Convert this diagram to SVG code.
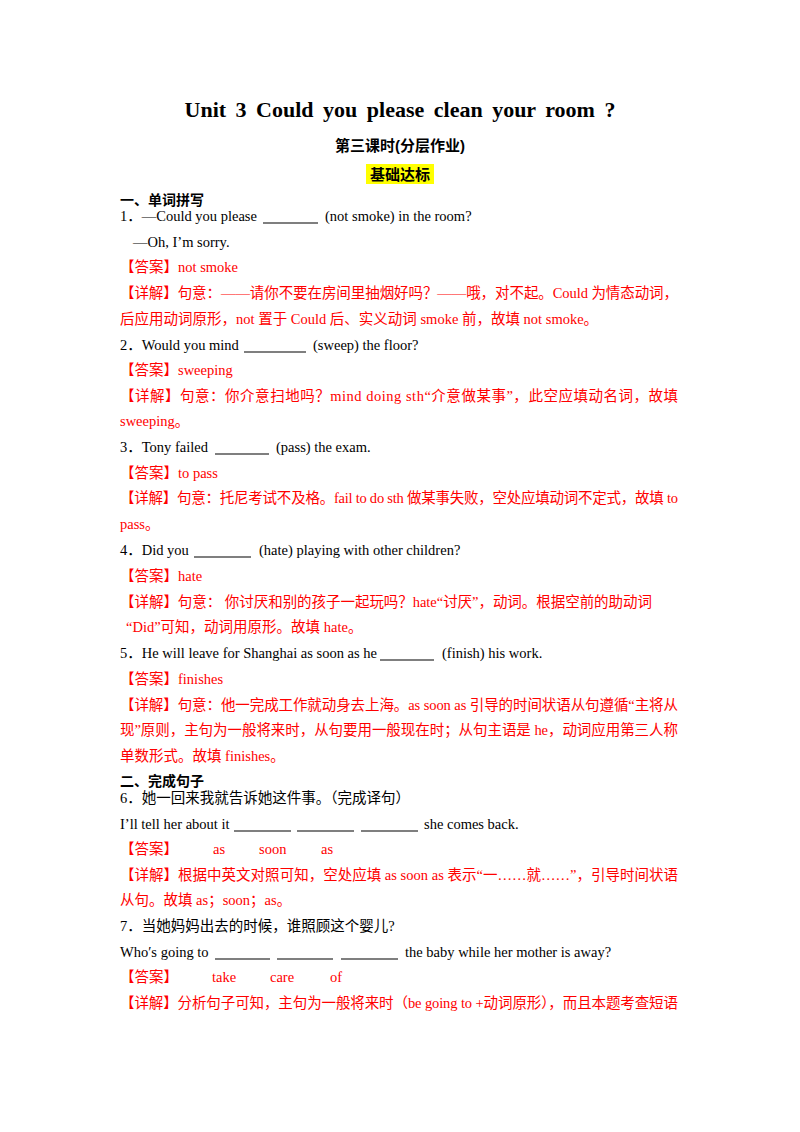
<svg xmlns="http://www.w3.org/2000/svg" width="800" height="1132" viewBox="0 0 800 1132">
<style>
text{font-family:"Liberation Serif","Noto Sans CJK SC",serif;font-size:14.5px;fill:#000}
.r{fill:#ff0000}
.b{font-weight:bold}
.h{font-family:"Liberation Sans","Noto Sans CJK SC",sans-serif;font-weight:bold;font-size:14px}
line{stroke:#000;stroke-width:1.2}
</style>
<rect width="800" height="1132" fill="#fff"/>
<text x="400" y="117" text-anchor="middle" class="b" style="font-size:22px;word-spacing:4px">Unit 3 Could you please clean your room ?</text>
<text x="400" y="151" text-anchor="middle" class="h" style="font-size:15px">第三课时(分层作业)</text>
<rect x="366" y="164" width="68" height="20" fill="#ffff00"/>
<text x="400" y="180" text-anchor="middle" class="h" style="font-size:15px">基础达标</text>
<text x="120" y="205" class="h">一、单词拼写</text>
<text x="120" y="221">1．—Could you please</text>
<line x1="263" y1="223" x2="318" y2="223"/>
<text x="325" y="221">(not smoke) in the room?</text>
<text x="133" y="247">—Oh, I’m sorry.</text>
<text x="120" y="272" class="r">【答案】not smoke</text>
<text x="120" y="298" class="r" textLength="558" lengthAdjust="spacing">【详解】句意：——请你不要在房间里抽烟好吗？——哦，对不起。Could 为情态动词，</text>
<text x="120" y="324" class="r">后应用动词原形，not 置于 Could 后、实义动词 smoke 前，故填 not smoke。</text>
<text x="120" y="350">2．Would you mind</text>
<line x1="244" y1="352" x2="306" y2="352"/>
<text x="313" y="350">(sweep) the floor?</text>
<text x="120" y="375" class="r">【答案】sweeping</text>
<text x="120" y="401" class="r" textLength="558" lengthAdjust="spacing">【详解】句意：你介意扫地吗？mind doing sth“介意做某事”，此空应填动名词，故填</text>
<text x="120" y="426" class="r">sweeping。</text>
<text x="120" y="452">3．Tony failed</text>
<line x1="215" y1="454" x2="269" y2="454"/>
<text x="276" y="452">(pass) the exam.</text>
<text x="120" y="478" class="r">【答案】to pass</text>
<text x="120" y="503" class="r" textLength="558" lengthAdjust="spacing">【详解】句意：托尼考试不及格。fail to do sth 做某事失败，空处应填动词不定式，故填 to</text>
<text x="120" y="529" class="r">pass。</text>
<text x="120" y="555">4．Did you</text>
<line x1="194" y1="557" x2="251" y2="557"/>
<text x="259" y="555">(hate) playing with other children?</text>
<text x="120" y="581" class="r">【答案】hate</text>
<text x="120" y="607" class="r" textLength="532" lengthAdjust="spacing">【详解】句意： 你讨厌和别的孩子一起玩吗？hate“讨厌”，动词。根据空前的助动词</text>
<text x="126" y="632" class="r">“Did”可知，动词用原形。故填 hate。</text>
<text x="120" y="658">5．He will leave for Shanghai as soon as he</text>
<line x1="380" y1="660" x2="434" y2="660"/>
<text x="442" y="658">(finish) his work.</text>
<text x="120" y="684" class="r">【答案】finishes</text>
<text x="120" y="710" class="r" textLength="558" lengthAdjust="spacing">【详解】句意：他一完成工作就动身去上海。as soon as 引导的时间状语从句遵循“主将从</text>
<text x="120" y="735" class="r" textLength="558" lengthAdjust="spacing">现”原则，主句为一般将来时，从句要用一般现在时；从句主语是 he，动词应用第三人称</text>
<text x="120" y="761" class="r">单数形式。故填 finishes。</text>
<text x="120" y="786" class="h">二、完成句子</text>
<text x="120" y="803">6．她一回来我就告诉她这件事。（完成译句）</text>
<text x="120" y="829">I’ll tell her about it</text>
<line x1="234" y1="831" x2="291" y2="831"/>
<line x1="297" y1="831" x2="354" y2="831"/>
<line x1="361" y1="831" x2="418" y2="831"/>
<text x="424" y="829">she comes back.</text>
<text x="120" y="854" class="r">【答案】</text>
<text x="213" y="854" class="r">as</text>
<text x="259" y="854" class="r">soon</text>
<text x="321" y="854" class="r">as</text>
<text x="120" y="880" class="r" textLength="558" lengthAdjust="spacing">【详解】根据中英文对照可知，空处应填 as soon as 表示“一……就……”，引导时间状语</text>
<text x="120" y="905" class="r">从句。故填 as；soon；as。</text>
<text x="120" y="931">7．当她妈妈出去的时候，谁照顾这个婴儿?</text>
<text x="120" y="957">Who′s going to</text>
<line x1="215" y1="959" x2="270" y2="959"/>
<line x1="277" y1="959" x2="333" y2="959"/>
<line x1="341" y1="959" x2="398" y2="959"/>
<text x="405" y="957">the baby while her mother is away?</text>
<text x="120" y="982" class="r">【答案】</text>
<text x="212" y="982" class="r">take</text>
<text x="270" y="982" class="r">care</text>
<text x="330" y="982" class="r">of</text>
<text x="120" y="1008" class="r" textLength="558" lengthAdjust="spacing">【详解】分析句子可知，主句为一般将来时（be going to +动词原形），而且本题考查短语</text>
</svg>
